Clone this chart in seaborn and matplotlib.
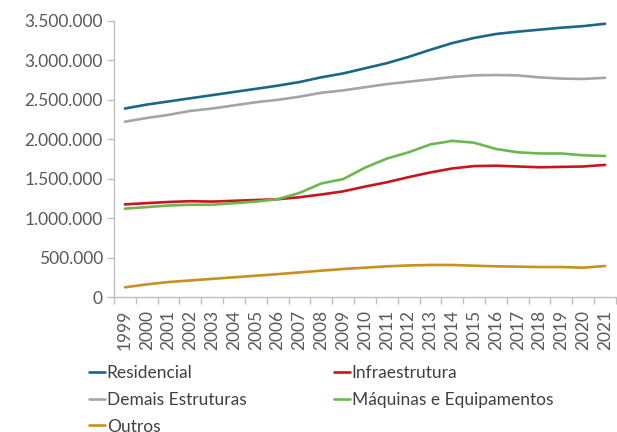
import numpy as np
import pandas as pd
import matplotlib
matplotlib.use('Agg')
import matplotlib.pyplot as plt
import seaborn as sns
from matplotlib.ticker import FuncFormatter, MultipleLocator, FixedLocator

years = list(range(1999, 2022))

residencial = [2390000, 2440000, 2480000, 2520000, 2560000, 2600000, 2640000, 2680000,
               2726000, 2786000, 2835000, 2900000, 2965000, 3045000, 3135000, 3220000,
               3285000, 3335000, 3365000, 3390000, 3415000, 3435000, 3465000]
infraestrutura = [1175000, 1190000, 1205000, 1215000, 1210000, 1220000, 1230000, 1240000,
                  1265000, 1300000, 1340000, 1400000, 1455000, 1520000, 1580000, 1630000,
                  1660000, 1665000, 1655000, 1645000, 1650000, 1655000, 1675000]
demais = [2223000, 2270000, 2310000, 2360000, 2390000, 2430000, 2470000, 2500000,
          2540000, 2590000, 2620000, 2660000, 2700000, 2730000, 2760000, 2790000,
          2810000, 2815000, 2810000, 2785000, 2770000, 2765000, 2780000]
maquinas = [1120000, 1140000, 1160000, 1170000, 1170000, 1190000, 1210000, 1240000,
            1320000, 1440000, 1495000, 1640000, 1755000, 1835000, 1935000, 1980000,
            1957000, 1877000, 1835000, 1820000, 1820000, 1797000, 1788000]
outros = [123000, 160000, 190000, 210000, 230000, 250000, 270000, 290000,
          312000, 334000, 355000, 372000, 389000, 400000, 406000, 406000,
          397000, 389000, 385000, 380000, 380000, 372000, 393000]

series = {
    'Residencial': residencial,
    'Infraestrutura': infraestrutura,
    'Demais Estruturas': demais,
    'Máquinas e Equipamentos': maquinas,
    'Outros': outros,
}
colors = {
    'Residencial': '#1B6788',
    'Infraestrutura': '#C8161D',
    'Demais Estruturas': '#A5A5A5',
    'Máquinas e Equipamentos': '#6BB84E',
    'Outros': '#C8901F',
}

df = pd.DataFrame([(y, name, v) for name, vals in series.items() for y, v in zip(years, vals)],
                  columns=['Ano', 'Serie', 'Valor'])

sns.set_style('white')
plt.rcParams['font.family'] = ['Lato', 'DejaVu Sans']

fig = plt.figure(figsize=(6.17, 4.32), dpi=100)
ax = fig.add_axes([0.1848, 0.3125, 0.8135, 0.6389])

sns.lineplot(data=df, x='Ano', y='Valor', hue='Serie', palette=colors,
             hue_order=list(series.keys()), linewidth=1.9, ax=ax, legend=False)

ax.set_xlim(1998.5, 2021.5)
ax.set_ylim(0, 3500000)
ax.yaxis.set_major_locator(MultipleLocator(500000))
ax.yaxis.set_major_formatter(FuncFormatter(lambda v, p: f'{int(v):,}'.replace(',', '.')))
ax.set_xticks(years)
ax.set_xticklabels([str(y) for y in years], rotation=90)
ax.xaxis.set_minor_locator(FixedLocator(np.arange(1998.5, 2022, 1)))
ax.tick_params(axis='x', which='major', length=0, pad=9, labelsize=12.5, colors='#595959')
ax.tick_params(axis='x', which='minor', length=5, width=1, color='#BFBFBF', direction='out', bottom=True)
ax.tick_params(axis='y', which='major', length=5, width=1, color='#BFBFBF', direction='out',
               left=True, labelsize=12.5, labelcolor='#595959', pad=3)
ax.set_xlabel('')
ax.set_ylabel('')
for s in ['top', 'right']:
    ax.spines[s].set_visible(False)
for s in ['left', 'bottom']:
    ax.spines[s].set_color('#BFBFBF')
    ax.spines[s].set_linewidth(1)

handles = {name: plt.Line2D([], [], color=colors[name], linewidth=1.9) for name in series}
order = ['Residencial', 'Demais Estruturas', 'Outros', 'Infraestrutura', 'Máquinas e Equipamentos']
leg = fig.legend([handles[n] for n in order], order, ncol=2, loc='upper left',
                 bbox_to_anchor=(0.145, 0.155), frameon=False, fontsize=12.5,
                 handlelength=0.9, handletextpad=0.1, columnspacing=5.05, labelspacing=0.62,
                 borderaxespad=0, borderpad=0)
for t in leg.get_texts():
    t.set_color('#404040')

fig.savefig('out.png', dpi=100)
